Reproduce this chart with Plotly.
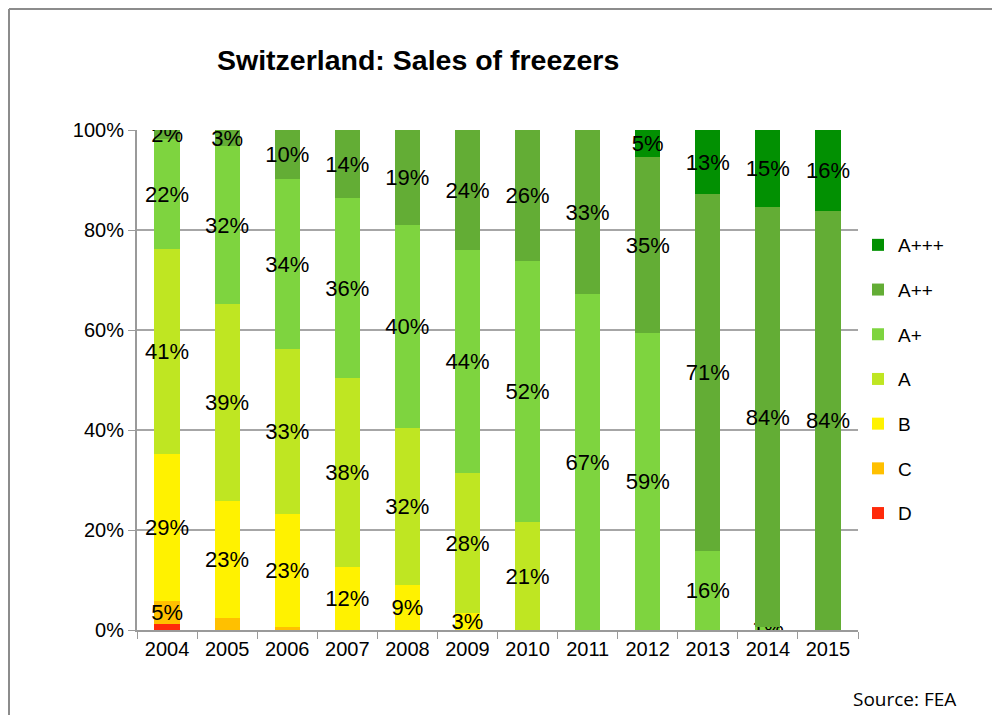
import plotly.graph_objects as go

years = ["2004", "2005", "2006", "2007", "2008", "2009", "2010", "2011", "2012", "2013", "2014", "2015"]

classes = ["D", "C", "B", "A", "A+", "A++", "A+++"]

# share of sales (%) per energy class
D     = [1.2, 0,   0,    0,    0,    0,    0,    0,    0,    0,    0,    0]
C     = [4.6, 2.4, 0.6,  0,    0,    0,    0,    0,    0,    0,    0,    0]
B     = [29.4, 23.4, 22.6, 12.6, 9.0, 3.4,  0,    0,    0,    0,    0,    0]
A     = [41.0, 39.4, 33.0, 37.8, 31.4, 28.0, 21.6, 0,    0,    0,    0,    0]
Aplus = [22.0, 31.6, 34.0, 36.0, 40.6, 44.6, 52.2, 67.2, 59.4, 15.8, 0.6,  0]
A2p   = [1.8,  3.2,  9.8,  13.6, 19.0, 24.0, 26.2, 32.8, 35.2, 71.4, 84.0, 83.8]
A3p   = [0,    0,    0,    0,    0,    0,    0,    0,    5.4,  12.8, 15.4, 16.2]

# data labels as printed on the chart (None = no label)
D_lbl     = [None] * 12
C_lbl     = ["5%", None, None, None, None, None, None, None, None, None, None, None]
B_lbl     = ["29%", "23%", "23%", "12%", "9%", "3%", None, None, None, None, None, None]
A_lbl     = ["41%", "39%", "33%", "38%", "32%", "28%", "21%", None, None, None, None, None]
Aplus_lbl = ["22%", "32%", "34%", "36%", "40%", "44%", "52%", "67%", "59%", "16%", "1%", None]
A2p_lbl   = ["2%", "3%", "10%", "14%", "19%", "24%", "26%", "33%", "35%", "71%", "84%", "84%"]
A3p_lbl   = [None, None, None, None, None, None, None, None, "5%", "13%", "15%", "16%"]

values = [D, C, B, A, Aplus, A2p, A3p]
labels = [D_lbl, C_lbl, B_lbl, A_lbl, Aplus_lbl, A2p_lbl, A3p_lbl]
colors = ["#FF2A0A", "#FFC000", "#FFF200", "#BFE622", "#7ED43F", "#63AD35", "#029002"]

FONT = "Liberation Sans, Arial, sans-serif"

fig = go.Figure()
n = len(classes)
for i, (name, vals, lbl, col) in enumerate(zip(classes, values, labels, colors)):
    fig.add_trace(go.Bar(
        x=years, y=vals, name=name, legendgroup=name, legendrank=100 + (n - i),
        marker=dict(color=col, line=dict(width=0)),
        text=[t if t is not None else "" for t in lbl],
        textposition="inside", insidetextanchor="middle",
        textangle=0, constraintext="none",
        textfont=dict(family=FONT, size=22, color="black"),
        hoverinfo="skip",
    ))

# page offset of the figure (browser body margin)
OFF = 8
W, H = 1000 - OFF, 715 - OFF
# plot area in page pixels
PX0, PX1, PY0, PY1 = 137, 858, 130, 630
L, R, T, B = PX0 - OFF, W - (PX1 - OFF), PY0 - OFF, H - (PY1 - OFF)
pw, ph = W - L - R, H - T - B

def px_x(x):
    return (x - OFF - L) / pw

def px_y(y):
    return (H - B - (y - OFF)) / ph

fig.update_layout(
    width=W, height=H,
    barmode="stack", bargap=0.58,
    plot_bgcolor="white", paper_bgcolor="white",
    margin=dict(l=L, r=R, t=T, b=B),
    font=dict(family=FONT, size=20, color="black"),
    uniformtext=dict(minsize=22, mode="show"),
    showlegend=True,
    legend=dict(
        x=px_x(858), y=px_y(226), xanchor="left", yanchor="top",
        traceorder="grouped", tracegroupgap=17,
        font=dict(family=FONT, size=19, color="black"),
        itemwidth=30, bgcolor="rgba(0,0,0,0)",
    ),
    xaxis=dict(
        type="category", showline=True, linecolor="#9a9a9a", linewidth=2,
        ticks="outside", tickson="boundaries", ticklen=7, tickcolor="#9a9a9a",
        tickfont=dict(family=FONT, size=20), showgrid=False,
    ),
    yaxis=dict(
        range=[0, 100], tickvals=[0, 20, 40, 60, 80, 100],
        ticktext=["0%", "20%", "40%", "60%", "80%", "100%"],
        showgrid=True, gridcolor="#a6a6a6", gridwidth=2,
        showline=True, linecolor="#9a9a9a", linewidth=2,
        ticks="outside", ticklen=7, tickcolor="#9a9a9a",
        tickfont=dict(family=FONT, size=20), zeroline=False,
    ),
    shapes=[
        dict(type="line", xref="paper", yref="paper",
             x0=px_x(9), x1=px_x(1000), y0=px_y(9), y1=px_y(9),
             line=dict(color="#8c8c8c", width=2)),
        dict(type="line", xref="paper", yref="paper",
             x0=px_x(9), x1=px_x(9), y0=px_y(9), y1=px_y(715),
             line=dict(color="#8c8c8c", width=2)),
    ],
    annotations=[
        dict(text="<b>Switzerland: Sales of freezers</b>", xref="paper", yref="paper",
             x=px_x(418), y=px_y(60), xanchor="center", yanchor="middle",
             showarrow=False, font=dict(family=FONT, size=28.5, color="black")),
        dict(text="Source: FEA", xref="paper", yref="paper",
             x=px_x(904), y=px_y(699), xanchor="center", yanchor="middle",
             showarrow=False, font=dict(family="Open Sans, sans-serif", size=19, color="black")),
    ],
)

fig.write_html("out.html")
